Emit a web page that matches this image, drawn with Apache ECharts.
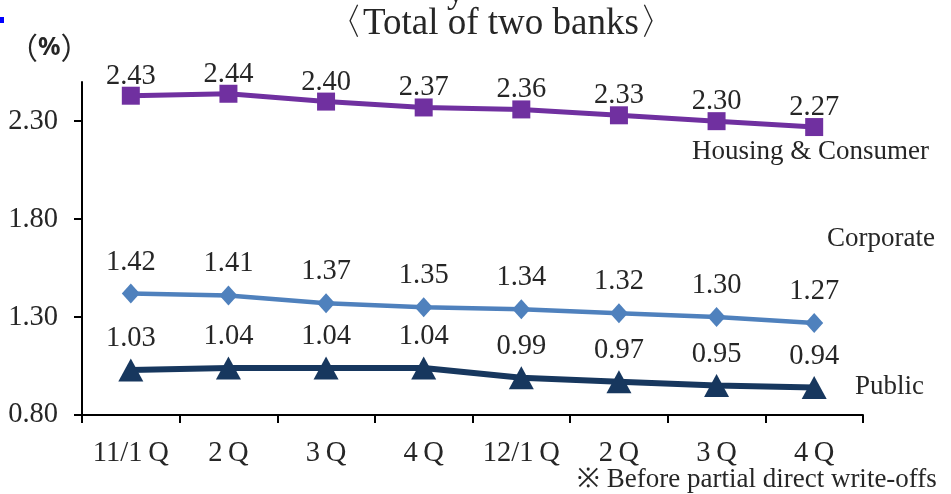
<!DOCTYPE html>
<html>
<head>
<meta charset="utf-8">
<script src="https://cdn.jsdelivr.net/npm/echarts@6/dist/echarts.min.js"></script>
<style>
  html, body { margin: 0; padding: 0; background: #fff; }
  #chart { width: 951px; height: 494px; }
</style>
</head>
<body>
<div id="chart"></div>
<script>
// Quarterly ratios, total of two banks
const quarters = ['11/1\u2009Q', '2\u2009Q', '3\u2009Q', '4\u2009Q', '12/1\u2009Q', '2\u2009Q', '3\u2009Q', '4\u2009Q'];
const housingConsumer = [2.43, 2.44, 2.40, 2.37, 2.36, 2.33, 2.30, 2.27];
const corporate = [1.42, 1.41, 1.37, 1.35, 1.34, 1.32, 1.30, 1.27];
const publicSector = [1.03, 1.04, 1.04, 1.04, 0.99, 0.97, 0.95, 0.94];
const yTicks = [0.80, 1.30, 1.80, 2.30];

const serif = '"Liberation Serif", "DejaVu Serif", serif';
const textColor = '#262626';

const chart = echarts.init(document.getElementById('chart'), null, { renderer: 'canvas' });

function lineSeries(name, data, color, symbol, size, width, dist) {
  return {
    name: name,
    type: 'line',
    data: data,
    symbol: symbol,
    symbolSize: size,
    showAllSymbol: true,
    lineStyle: { color: color, width: width },
    itemStyle: { color: color },
    label: {
      show: true,
      position: 'top',
      distance: dist,
      fontFamily: serif,
      fontSize: 28.5,
      color: textColor,
      formatter: p => p.value.toFixed(2)
    },
    z: 3
  };
}

chart.setOption({
  animation: false,
  grid: { left: 82, right: 88, top: 82, bottom: 79 },
  xAxis: {
    type: 'category',
    data: quarters,
    boundaryGap: true,
    axisLine: { lineStyle: { color: '#000', width: 2 } },
    axisTick: { show: true, length: 8, lineStyle: { color: '#000', width: 2 } },
    axisLabel: { interval: 0, fontFamily: serif, fontSize: 28.5, color: textColor, margin: 24 }
  },
  yAxis: {
    type: 'value',
    min: 0.8,
    max: 2.5,
    splitLine: { show: false },
    axisLine: { show: true, lineStyle: { color: '#000', width: 2 } },
    axisTick: { show: true, length: 8, lineStyle: { color: '#000', width: 2 }, customValues: yTicks },
    axisLabel: {
      fontFamily: serif, fontSize: 28.5, color: textColor, margin: 24,
      customValues: yTicks,
      formatter: v => v.toFixed(2)
    }
  },
  series: [
    lineSeries('Housing & Consumer', housingConsumer, '#7030A0', 'rect', 18, 5, -4),
    lineSeries('Corporate', corporate, '#4F81BD', 'diamond', [18, 20], 4.5, 7),
    lineSeries('Public', publicSector, '#17375E', 'triangle', [25, 23], 6, 5)
  ],
  graphic: [
    { type: 'rect', left: 0, top: 17, shape: { width: 4, height: 6 }, style: { fill: '#0000ff' } },
    { type: 'text', left: 447, top: -25, style: { text: 'y', font: '35px ' + serif, fill: textColor } },
    { type: 'text', left: 326, top: 6, style: { text: '〈Total of two banks〉', font: '37px ' + serif, fill: textColor } },
    {
      type: 'text', left: 8, top: 33,
      style: {
        text: '{p|（}{b|%}{p|）}',
        rich: {
          p: { fontFamily: '"Noto Sans CJK JP", sans-serif', fontSize: 30, fill: textColor, color: textColor },
          b: { fontFamily: '"Noto Sans", sans-serif', fontWeight: 'bold', fontSize: 25, fill: textColor, color: textColor }
        }
      }
    },
    { type: 'text', left: 692, top: 138, style: { text: 'Housing & Consumer', font: '27px ' + serif, fill: textColor } },
    { type: 'text', left: 827, top: 225, style: { text: 'Corporate', font: '27px ' + serif, fill: textColor } },
    { type: 'text', left: 855, top: 373, style: { text: 'Public', font: '27px ' + serif, fill: textColor } },
    { type: 'text', left: 577, top: 466, style: { text: '※ Before partial direct write-offs', font: '27px ' + serif, fill: textColor } }
  ]
});
</script>
</body>
</html>
